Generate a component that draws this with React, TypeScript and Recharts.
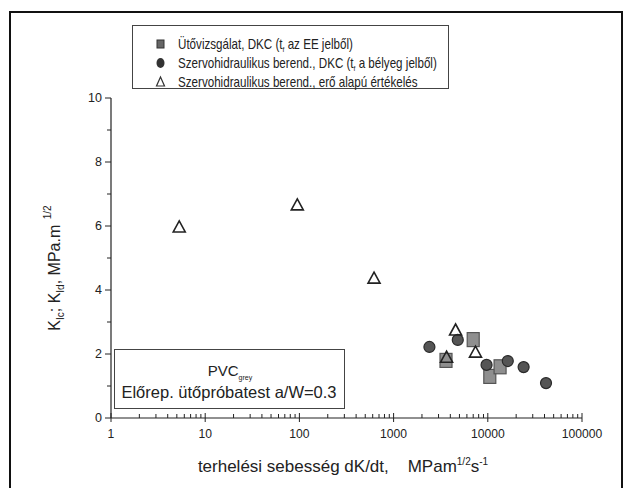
import React from "react";
import { ScatterChart, Scatter, XAxis, YAxis } from "recharts";

const squaresX = [3600, 7000, 10500, 13500];
const squaresY = [1.8, 2.45, 1.3, 1.6];
const circlesX = [2400, 4800, 9700, 16300, 24000, 41500];
const circlesY = [2.22, 2.44, 1.66, 1.78, 1.59, 1.09];
const trianglesX = [5.3, 95, 620, 4550, 3650, 7400];
const trianglesY = [5.97, 6.66, 4.37, 2.75, 1.9, 2.06];

const xMajor = [1, 10, 100, 1000, 10000, 100000];
const yTicks = [0, 1, 2, 3, 4, 5, 6, 7, 8, 9, 10];
const yLabeled = [0, 2, 4, 6, 8, 10];

const xTicks: number[] = [];
for (let d = 0; d < 5; d++) {
  for (let m = 1; m < 10; m++) xTicks.push(m * Math.pow(10, d));
}
xTicks.push(100000);

const zip = (xs: number[], ys: number[]) => xs.map((x, i) => ({ x, y: ys[i] }));
const squares = zip(squaresX, squaresY);
const circles = zip(circlesX, circlesY);
const triangles = zip(trianglesX, trianglesY);

const FONT = "'Liberation Sans', Arial, sans-serif";

const SquareShape = (p: any) => (
  <rect x={p.cx - 6} y={p.cy - 7} width={12} height={14} fill="#8f8f8f" stroke="#555" strokeWidth={1.2} />
);
const CircleShape = (p: any) => (
  <circle cx={p.cx} cy={p.cy} r={5.5} fill="#555" stroke="#2a2a2a" strokeWidth={1.2} />
);
const TriangleShape = (p: any) => (
  <path d={`M${p.cx},${p.cy - 6} L${p.cx + 6},${p.cy + 5} L${p.cx - 6},${p.cy + 5} Z`} fill="none" stroke="#222" strokeWidth={1.6} />
);

const XTick = (p: any) => {
  const v = p.payload.value;
  const major = xMajor.some((m) => Math.abs(m - v) < 1e-6);
  return (
    <g>
      <line x1={p.x} x2={p.x} y1={major ? p.y + 4 : p.y} y2={major ? p.y - 5 : p.y - 4} stroke="#222" strokeWidth={1} />
      {major && (
        <text x={p.x} y={p.y + 20} textAnchor="middle" fontSize={13.5} fill="#222" fontFamily={FONT} transform={`translate(${p.x},0) scale(0.9,1) translate(${-p.x},0)`}>
          {v}
        </text>
      )}
    </g>
  );
};

const YTick = (p: any) => {
  const v = p.payload.value;
  const major = yLabeled.includes(v);
  return (
    <g>
      <line x1={p.x} x2={p.x - (major ? 6 : 4)} y1={p.y} y2={p.y} stroke="#222" strokeWidth={1} />
      {major && (
        <text x={p.x - 9} y={p.y + 4} textAnchor="end" fontSize={12.5} fill="#222" fontFamily={FONT}>
          {v}
        </text>
      )}
    </g>
  );
};

export default function App() {
  return (
    <div style={{ position: "absolute", left: 0, top: 0, width: 624, height: 488, background: "#fff", overflow: "hidden", fontFamily: FONT, color: "#222" }}>
      <div style={{ position: "absolute", left: 9, top: 11, width: 610, height: 490, border: "2px solid #111" }} />
      <ScatterChart width={624} height={488} margin={{ top: 98, right: 42, bottom: 0, left: 51 }} style={{ position: "absolute", left: 0, top: 0 }}>
        <XAxis
          type="number"
          dataKey="x"
          scale="log"
          domain={[1, 100000]}
          ticks={xTicks}
          interval={0}
          tick={<XTick />}
          tickLine={false}
          tickSize={0}
          tickMargin={0}
          height={70}
          allowDataOverflow
          axisLine={{ stroke: "#222", strokeWidth: 1.2 }}
        />
        <YAxis
          type="number"
          dataKey="y"
          domain={[0, 10]}
          ticks={yTicks}
          interval={0}
          tick={<YTick />}
          tickLine={false}
          tickSize={0}
          tickMargin={0}
          width={60}
          axisLine={{ stroke: "#222", strokeWidth: 1.2 }}
        />
        <Scatter data={squares} shape={<SquareShape />} isAnimationActive={false} />
        <Scatter data={circles} shape={<CircleShape />} isAnimationActive={false} />
        <Scatter data={triangles} shape={<TriangleShape />} isAnimationActive={false} />
      </ScatterChart>

      {/* legend box */}
      <div style={{ position: "absolute", left: 132, top: 25, width: 315, height: 62, border: "1.5px solid #444", background: "#fff" }} />
      <svg width={624} height={488} style={{ position: "absolute", left: 0, top: 0, pointerEvents: "none" }}>
        <rect x={157} y={40} width={7} height={8} fill="#666" stroke="#333" />
        <ellipse cx={160.5} cy={63} rx={4} ry={5} fill="#333" />
        <path d="M160.5,77 L164.5,86 L156.5,86 Z" fill="none" stroke="#333" strokeWidth={1.2} />
        <g fontFamily={FONT} fontSize={14} fill="#222" transform="translate(178,0) scale(0.83,1)">
          <text x={0} y={49}>
            Ütővizsgálat, DKC (t<tspan dy={3} fontSize={8}>f</tspan><tspan dy={-3}> az EE jelből)</tspan>
          </text>
          <text x={0} y={68}>
            Szervohidraulikus berend., DKC (t<tspan dy={3} fontSize={8}>f</tspan><tspan dy={-3}> a bélyeg jelből)</tspan>
          </text>
          <text x={0} y={87}>Szervohidraulikus berend., erő alapú értékelés</text>
        </g>
      </svg>

      {/* annotation box */}
      <div style={{ position: "absolute", left: 114, top: 349, width: 229, height: 58, border: "1.5px solid #444", background: "#fff" }} />
      <svg width={624} height={488} style={{ position: "absolute", left: 0, top: 0, pointerEvents: "none" }}>
        <g fontFamily={FONT} fill="#222">
          <text x={230} y={376} textAnchor="middle" fontSize={15}>
            PVC<tspan dy={4} fontSize={7}>grey</tspan>
          </text>
          <text x={229} y={398} textAnchor="middle" fontSize={16.5}>Előrep. ütőpróbatest a/W=0.3</text>
        </g>
        <g fontFamily={FONT} fill="#222" fontSize={16}>
          <text transform="translate(60,268) rotate(-90)" textAnchor="middle">
            K<tspan dy={4} fontSize={10}>Ic</tspan><tspan dy={-4}>; K</tspan><tspan dy={4} fontSize={10}>Id</tspan><tspan dy={-4}>,  MPa.m</tspan><tspan dy={-9} fontSize={10}>{"\u00a0\u00a0"}1/2</tspan>
          </text>
          <text x={343} y={472} textAnchor="middle" fontSize={17}>
            terhelési sebesség dK/dt,{"\u00a0\u00a0\u00a0\u00a0"}MPam<tspan dy={-7} fontSize={10}>1/2</tspan><tspan dy={7}>s</tspan><tspan dy={-7} fontSize={10}>-1</tspan>
          </text>
        </g>
      </svg>
    </div>
  );
}
